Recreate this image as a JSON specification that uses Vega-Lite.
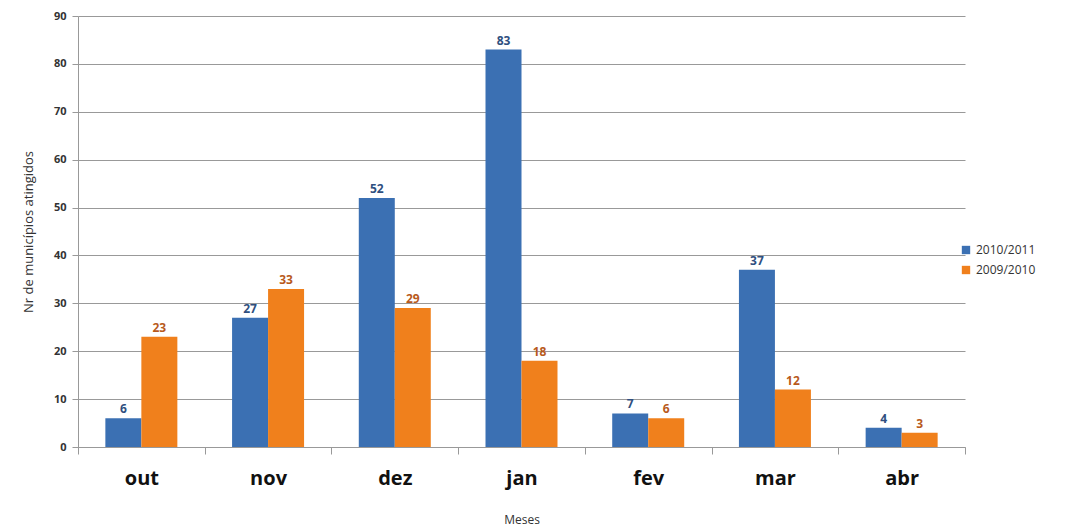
{
  "$schema": "https://vega.github.io/schema/vega-lite/v6.json",
  "width": 887,
  "height": 431,
  "autosize": {"type": "none"},
  "padding": {"left": 78, "top": 16, "right": 116, "bottom": 82},
  "background": "white",
  "config": {"view": {"stroke": null}, "font": "Open Sans"},
  "data": {"values": [
    {"mes": "out", "serie": "2010/2011", "valor": 6},
    {"mes": "out", "serie": "2009/2010", "valor": 23},
    {"mes": "nov", "serie": "2010/2011", "valor": 27},
    {"mes": "nov", "serie": "2009/2010", "valor": 33},
    {"mes": "dez", "serie": "2010/2011", "valor": 52},
    {"mes": "dez", "serie": "2009/2010", "valor": 29},
    {"mes": "jan", "serie": "2010/2011", "valor": 83},
    {"mes": "jan", "serie": "2009/2010", "valor": 18},
    {"mes": "fev", "serie": "2010/2011", "valor": 7},
    {"mes": "fev", "serie": "2009/2010", "valor": 6},
    {"mes": "mar", "serie": "2010/2011", "valor": 37},
    {"mes": "mar", "serie": "2009/2010", "valor": 12},
    {"mes": "abr", "serie": "2010/2011", "valor": 4},
    {"mes": "abr", "serie": "2009/2010", "valor": 3}
  ]},
  "encoding": {
    "x": {"field": "mes", "type": "nominal", "sort": ["out","nov","dez","jan","fev","mar","abr"],
      "scale": {"paddingInner": 0, "paddingOuter": 0},
      "axis": {"title": "Meses", "titleFontSize": 12, "titleFontWeight": "normal", "titleColor": "#333", "titlePadding": 26,
        "labelAngle": 0, "labelFontSize": 20, "labelFontWeight": "bold", "labelColor": "#111", "labelPadding": 14,
        "domainColor": "#999", "tickColor": "#999", "tickBand": "extent", "tickSize": 7}},
    "xOffset": {"field": "serie", "type": "nominal", "sort": ["2010/2011","2009/2010"],
      "scale": {"paddingInner": 0, "paddingOuter": 0.76}},
    "y": {"field": "valor", "type": "quantitative", "scale": {"domain": [0, 90]},
      "axis": {"values": [0,10,20,30,40,50,60,70,80,90], "title": "Nr de municípios atingidos", "titleFontSize": 13, "titleFontWeight": "normal", "titleColor": "#333", "titlePadding": 18,
        "labelFontSize": 11, "labelFontWeight": "bold", "labelColor": "#333", "labelPadding": 6,
        "domainColor": "#999", "tickColor": "#999", "tickSize": 6, "gridColor": "#999", "gridWidth": 1}}
  },
  "layer": [
    {"mark": {"type": "bar"},
      "encoding": {"color": {"field": "serie", "type": "nominal", "sort": ["2010/2011","2009/2010"],
        "scale": {"domain": ["2010/2011","2009/2010"], "range": ["#3b70b3", "#f0801c"]},
        "legend": {"title": null, "orient": "none", "legendX": 882, "legendY": 228, "symbolType": "square", "symbolSize": 70, "labelFontSize": 12, "labelColor": "#333", "rowPadding": 8}}}},
    {"mark": {"type": "text", "dy": -9, "fontSize": 12, "fontWeight": "bold"},
      "encoding": {"text": {"field": "valor", "type": "quantitative"},
        "color": {"field": "serie", "type": "nominal", "scale": {"domain": ["2010/2011","2009/2010"], "range": ["#2f4f80", "#b85a1c"]}, "legend": null}}}
  ],
  "resolve": {"scale": {"color": "independent"}}
}
